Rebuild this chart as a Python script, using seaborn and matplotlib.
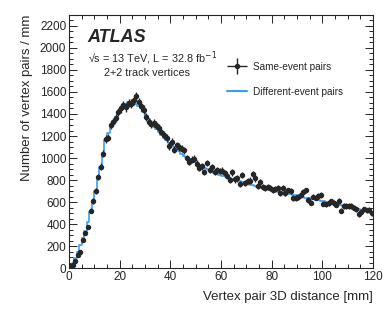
import numpy as np
import matplotlib
matplotlib.use("Agg")
import matplotlib.pyplot as plt
import seaborn as sns
from matplotlib.lines import Line2D
from matplotlib.legend_handler import HandlerErrorbar
from matplotlib.ticker import MultipleLocator

# ── Data (1 mm bins, 0-120 mm) ───────────────────────────────────────────────
bin_edges_mm = [0, 120]
same_event = [
    15, 30, 65, 115, 150, 255, 315, 375, 520, 610,
    700, 830, 920, 1040, 1175, 1185, 1300, 1330, 1360, 1415,
    1450, 1480, 1460, 1500, 1495, 1525, 1560, 1510, 1470, 1440,
    1375, 1330, 1305, 1315, 1300, 1270, 1240, 1210, 1180, 1110,
    1150, 1075, 1115, 1100, 1085, 1070, 1000, 965, 985, 995,
    950, 910, 925, 875, 955, 895, 915, 875, 890, 880,
    885, 860, 835, 800, 870, 805, 815, 765, 845, 775,
    790, 795, 855, 815, 745, 785, 735, 725, 735, 725,
    710, 715, 725, 680, 725, 680, 705, 700, 635, 635,
    645, 665, 695, 705, 620, 595, 650, 640, 655, 665,
    585, 580, 590, 605, 590, 575, 610, 520, 565, 565,
    565, 565, 550, 535, 490, 510, 535, 525, 530, 500,
]
different_event = [
    15, 50, 95, 150, 210, 270, 340, 420, 510, 600,
    700, 810, 920, 1050, 1160, 1230, 1290, 1335, 1375, 1410,
    1445, 1470, 1490, 1505, 1510, 1505, 1495, 1475, 1450, 1420,
    1385, 1350, 1315, 1285, 1260, 1235, 1210, 1185, 1160, 1140,
    1120, 1100, 1080, 1060, 1040, 1022, 1005, 990, 975, 960,
    947, 934, 922, 910, 899, 888, 878, 868, 859, 850,
    841, 833, 825, 817, 809, 801, 794, 787, 780, 773,
    766, 759, 752, 746, 740, 734, 728, 722, 716, 710,
    705, 700, 695, 690, 685, 680, 675, 670, 665, 660,
    655, 650, 645, 640, 635, 630, 625, 620, 615, 610,
    605, 600, 595, 590, 585, 580, 575, 570, 565, 560,
    555, 550, 545, 540, 535, 528, 522, 516, 510, 505,
]

centers = np.arange(bin_edges_mm[0], bin_edges_mm[1]) + 0.5
same = np.array(same_event, dtype=float)
diff = np.array(different_event, dtype=float)

# ── Style ────────────────────────────────────────────────────────────────────
sns.set_style("ticks")
plt.rcParams["font.family"] = ["Liberation Sans", "DejaVu Sans"]

BLUE = "#3d9df2"
DARK = "#262626"

fig = plt.figure(figsize=(3.9, 3.18), dpi=100)
ax = fig.add_axes([0.177, 0.157, 0.779, 0.796])

# Different-event pairs: step histogram
sns.lineplot(x=centers, y=diff, ax=ax, color=BLUE, lw=1.2,
             drawstyle="steps-mid", zorder=2)

# Same-event pairs: points with errors
pts = ax.errorbar(centers, same, xerr=0.5, yerr=np.sqrt(same), fmt="o",
                  color=DARK, ms=2.9, elinewidth=1.0, capsize=0, zorder=3)

ax.set_xlim(0, 120)
ax.set_ylim(0, 2300)
ax.xaxis.set_major_locator(MultipleLocator(20))
ax.xaxis.set_minor_locator(MultipleLocator(5))
ax.yaxis.set_major_locator(MultipleLocator(200))
ax.yaxis.set_minor_locator(MultipleLocator(50))
ax.tick_params(which="both", direction="in", top=True, right=True,
               labelsize=8.5, pad=2, width=0.7)
ax.tick_params(which="major", length=6)
ax.tick_params(which="minor", length=3)
for sp in ax.spines.values():
    sp.set_linewidth(0.8)

ax.set_xlabel("Vertex pair 3D distance [mm]", loc="right", fontsize=9.5,
              labelpad=6)
ax.set_ylabel("Number of vertex pairs / mm", loc="top", fontsize=9.5,
              labelpad=5)

# ── Annotations ──────────────────────────────────────────────────────────────
ax.text(0.062, 0.91, "ATLAS", transform=ax.transAxes, fontsize=13,
        fontweight="bold", fontstyle="italic", va="center")
ax.text(0.062, 0.83, "√s = 13 TeV, L = 32.8 fb$^{-1}$", transform=ax.transAxes,
        fontsize=7.8, va="center")
ax.text(0.258, 0.77, "2+2 track vertices", transform=ax.transAxes,
        fontsize=7.8, va="center", ha="center")

handles = [pts, Line2D([0], [0], color=BLUE, lw=1.5)]
ax.legend(handles, ["Same-event pairs", "Different-event pairs"],
          loc="upper left", bbox_to_anchor=(0.49, 0.85), frameon=False,
          fontsize=7.2, handlelength=2.0, handletextpad=0.6,
          labelspacing=1.5,
          handler_map={pts: HandlerErrorbar(xerr_size=1.0, yerr_size=0.8)})

fig.savefig("out.png", dpi=100)
